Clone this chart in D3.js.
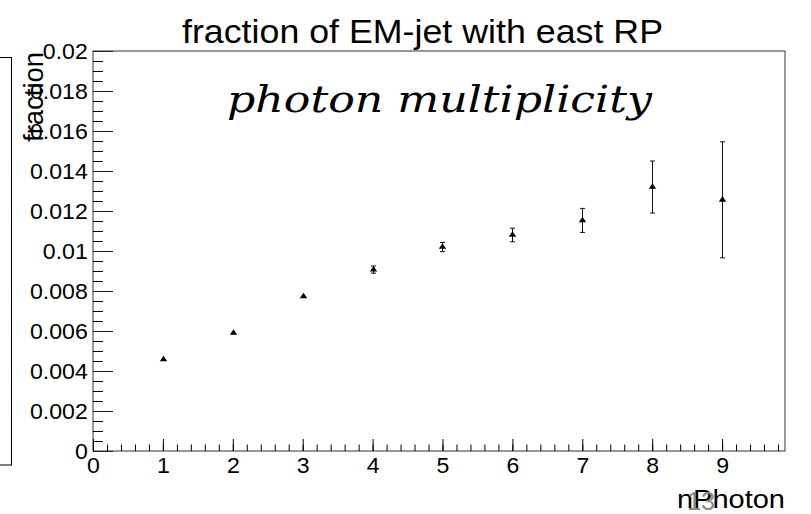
<!DOCTYPE html>
<html>
<head>
<meta charset="utf-8">
<script src="https://cdn.jsdelivr.net/npm/d3@7"></script>
<style>
  body { margin: 0; background: #fff; }
  svg { display: block; font-family: "Liberation Sans", Arial, sans-serif; }
</style>
</head>
<body>
<div id="chart"></div>
<script>
// values
const nPhoton = [1, 2, 3, 4, 5, 6, 7, 8, 9];
const fraction = [0.00458, 0.0059, 0.00773, 0.00907, 0.0102, 0.0108, 0.01153, 0.0132, 0.01256];
const fractionErr = [0.00003, 0.00005, 0.00008, 0.00018, 0.00023, 0.00034, 0.0006, 0.0013, 0.0029];
const yTicks = [0, 0.002, 0.004, 0.006, 0.008, 0.01, 0.012, 0.014, 0.016, 0.018, 0.02];
const xTicks = [0, 1, 2, 3, 4, 5, 6, 7, 8, 9];

const W = 811, H = 514;
const stretch = 1.05; // the picture is a bit wider than ROOT drew it

const svg = d3.select('#chart').append('svg')
    .attr('width', W)
    .attr('height', H);

const x = d3.scaleLinear().domain([0, 9.9]).range([93, 785]);
const y = d3.scaleLinear().domain([0, 0.02]).range([451, 51]);

// leftover box cut by the left edge
svg.append('rect')
    .attr('x', -20).attr('y', 57.5)
    .attr('width', 31.5).attr('height', 407.5)
    .attr('fill', 'none').attr('stroke', '#000');

// frame
svg.append('rect')
    .attr('x', x(0)).attr('y', y(0.02))
    .attr('width', x(9.9) - x(0)).attr('height', y(0) - y(0.02))
    .attr('fill', 'none').attr('stroke', '#333').attr('stroke-width', 1);

// y axis: major + minor ticks pointing inward
const yMinor = d3.range(0, 0.02001, 0.0005);
svg.append('g')
    .attr('transform', `translate(${x(0)},0)`)
    .call(d3.axisLeft(y).tickValues(yMinor).tickSize(-10).tickFormat(''))
    .call(g => g.select('.domain').remove());
const yAxis = svg.append('g')
    .attr('transform', `translate(${x(0)},0)`)
    .call(d3.axisLeft(y).tickValues(yTicks).tickSize(-20).tickPadding(5)
        .tickFormat(d => d === 0 ? '0' : d3.format('')(+d.toFixed(3))));
yAxis.select('.domain').remove();
yAxis.selectAll('line').attr('stroke', '#222');
yAxis.selectAll('text')
    .attr('font-size', 22)
    .attr('font-family', '"Liberation Sans", Arial, sans-serif')
    .attr('fill', '#000')
    .attr('transform', `scale(${stretch},1)`);

// x axis
const xMinor = d3.range(0, 9.9001, 0.2);
svg.append('g')
    .attr('transform', `translate(0,${y(0)})`)
    .call(d3.axisBottom(x).tickValues(xMinor).tickSize(-6.5).tickFormat(''))
    .call(g => g.select('.domain').remove());
const xAxis = svg.append('g')
    .attr('transform', `translate(0,${y(0)})`)
    .call(d3.axisBottom(x).tickValues(xTicks).tickSize(-12).tickPadding(6.5).tickFormat(d3.format('d')));
xAxis.select('.domain').remove();
xAxis.selectAll('text')
    .attr('font-size', 22)
    .attr('font-family', '"Liberation Sans", Arial, sans-serif')
    .attr('fill', '#000')
    .attr('transform', `scale(${stretch},1)`);

// error bars
const bars = svg.append('g').attr('stroke', '#111').attr('stroke-width', 1);
nPhoton.forEach((n, i) => {
    const px = Math.round(x(n)) + 0.5;
    const lo = y(fraction[i] - fractionErr[i]);
    const hi = y(fraction[i] + fractionErr[i]);
    if (lo - hi < 4) return;
    bars.append('line').attr('x1', px).attr('x2', px).attr('y1', hi).attr('y2', lo);
    bars.append('line').attr('x1', px - 2.5).attr('x2', px + 2.5).attr('y1', hi).attr('y2', hi);
    bars.append('line').attr('x1', px - 2.5).attr('x2', px + 2.5).attr('y1', lo).attr('y2', lo);
});

// markers: full triangles
svg.append('g').selectAll('path')
    .data(nPhoton)
    .join('path')
    .attr('d', d3.symbol(d3.symbolTriangle, 18))
    .attr('transform', (d, i) => `translate(${Math.round(x(d)) + 0.5},${y(fraction[i])}) scale(1.15,1)`)
    .attr('fill', '#000');

// title
svg.append('text')
    .attr('x', 182).attr('y', 43)
    .attr('font-size', 34)
    .attr('textLength', 481).attr('lengthAdjust', 'spacingAndGlyphs')
    .text('fraction of EM-jet with east RP');

svg.append('text')
    .attr('x', 227).attr('y', 112)
    .attr('font-family', '"DejaVu Serif", "Liberation Serif", serif')
    .attr('font-style', 'italic')
    .attr('font-size', 37)
    .attr('textLength', 425).attr('lengthAdjust', 'spacingAndGlyphs')
    .text('photon multiplicity');

// axis titles
svg.append('text')
    .attr('transform', `translate(43,52) scale(${stretch},1) rotate(-90)`)
    .attr('text-anchor', 'end')
    .attr('font-size', 27)
    .attr('textLength', 90).attr('lengthAdjust', 'spacingAndGlyphs')
    .text('fraction');

svg.append('text')
    .attr('x', 677).attr('y', 508)
    .attr('font-size', 26)
    .attr('textLength', 108).attr('lengthAdjust', 'spacingAndGlyphs')
    .text('nPhoton');

// page number drawn over the axis title
svg.append('text')
    .attr('x', 687).attr('y', 510)
    .attr('font-size', 25)
    .attr('fill', '#8a8a8a')
    .attr('textLength', 28).attr('lengthAdjust', 'spacingAndGlyphs')
    .text('13');
</script>
</body>
</html>
